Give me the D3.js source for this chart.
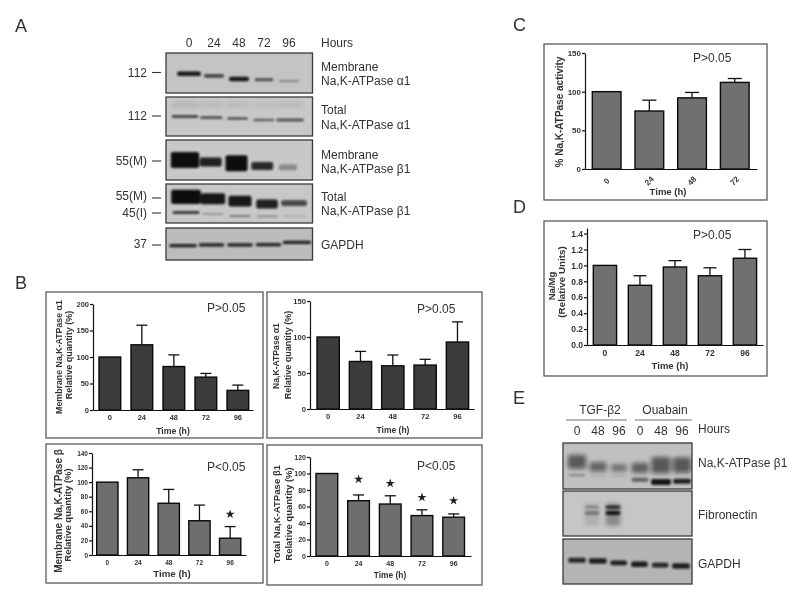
<!DOCTYPE html>
<html><head><meta charset="utf-8">
<script src="https://cdn.jsdelivr.net/npm/d3@7"></script>
<style>
html,body{margin:0;padding:0;background:#fff}
svg{display:block;filter:blur(0.4px)}
text{font-family:"Liberation Sans",Arial,sans-serif;fill:#333}
</style></head><body>
<svg id="fig" width="800" height="600"></svg>
<script>
// ---------- Bar chart data ----------
const hoursFive = ["0","24","48","72","96"];
const hoursFour = ["0","24","48","72"];
const membraneAlphaValues = [100,123,82,62,37];
const membraneAlphaErrTops = [100,160,104,69,47];
const membraneAlphaTicks = [0,50,100,150,200];
const totalAlphaValues = [100,66,60,61,93];
const totalAlphaErrTops = [100,80,75,69,121];
const totalAlphaTicks = [0,50,100,150];
const membraneBetaValues = [100,106,71,47,23];
const membraneBetaErrTops = [100,117,90,68.5,39];
const membraneBetaTicks = [0,20,40,60,80,100,120,140];
const membraneBetaStars = [null,null,null,null,56];
const totalBetaValues = [100,67,63,49,47];
const totalBetaErrTops = [100,74,73,56,51];
const totalBetaTicks = [0,20,40,60,80,100,120];
const totalBetaStars = [null,93,88,71,67];
const activityValues = [100,75,92,112];
const activityErrTops = [100,89,99,117];
const activityTicks = [0,50,100,150];
const naMgValues = [1,0.75,0.98,0.87,1.09];
const naMgErrTops = [1,0.87,1.06,0.97,1.2];
const naMgTicks = [0,0.2,0.4,0.6,0.8,1.0,1.2,1.4];

// ---------- Western blot densitometry
// (position and thickness in % of blot height, width as a share of the lane) ----------
const laneHoursA = ["0","24","48","72","96"];
const laneHoursE = ["T0","T48","T96","O0","O48","O96"];
const a1Pos=[52,57,65,67,70], a1Thick=[11,8,11,6,4], a1Dens=[.95,.8,.95,.75,.45], a1Wid=[.95,.8,.8,.75,.8];
const a2Pos=[50,53,55,59,59], a2Thick=[7,6,5,5,6], a2Dens=[.85,.8,.75,.7,.75], a2Wid=[1,.85,.8,.8,1.05];
const a2SmearPos=[20,20,20,20,20], a2SmearThick=[15,15,15,15,15], a2SmearDens=[.1,.08,.08,.06,.08], a2SmearWid=[1,.9,.9,.9,1];
const a3Pos=[50,55,58,65,68], a3Thick=[40,22,40,20,15], a3Dens=[1,.9,1,.85,.3], a3Wid=[1.1,.85,.85,.85,.7];
const a4Pos=[33,38,44,51,49], a4Thick=[36,28,28,23,15], a4Dens=[1,.95,.95,.9,.7], a4Wid=[1.1,.9,.85,.8,.95];
const a4LowPos=[73,77,82,83,82], a4LowThick=[6,4,5,4,3], a4LowDens=[.9,.35,.4,.35,.25], a4LowWid=[1,.8,.8,.8,.9];
const a5Pos=[55,53,53,52,45], a5Thick=[10,10,10,10,10], a5Dens=[.9,.9,.9,.9,.9], a5Wid=[.98,.9,.9,.9,1];
const e1Pos=[41,52,54,54,48,48], e1Thick=[30,20,17,22,35,33], e1Dens=[.6,.55,.4,.5,.6,.6], e1Wid=[.85,.8,.75,.8,.9,.85];
const e1LowPos=[70,72,72,80,85,83], e1LowThick=[5,4,4,9,13,11], e1LowDens=[.3,.12,.1,.55,.95,.9], e1LowWid=[.8,.7,.7,.8,.95,.85];
const e2Pos=[36,36,36,36,36,36], e2Thick=[6,6,6,6,6,6], e2Dens=[0,.25,.9,0,0,0], e2Wid=[0,.7,.7,0,0,0];
const e2LowPos=[49,49,49,49,49,49], e2LowThick=[9,9,9,9,9,9], e2LowDens=[0,.3,.95,0,0,0], e2LowWid=[0,.7,.7,0,0,0];
const e2SmearPos=[52,52,52,52,52,52], e2SmearThick=[50,50,50,50,50,50], e2SmearDens=[0,.12,.3,0,0,0], e2SmearWid=[0,.7,.7,0,0,0];
const e3Pos=[47,49,53,56,58,60], e3Thick=[11,12,11,12,11,12], e3Dens=[.85,.9,.9,.9,.85,.9], e3Wid=[.85,.85,.8,.8,.8,.85];

const svg = d3.select("#fig");
const defs = svg.append("defs");
defs.append("filter").attr("id","soft").attr("x","-30%").attr("y","-80%").attr("width","160%").attr("height","260%")
  .append("feGaussianBlur").attr("stdDeviation",1.2);
defs.append("filter").attr("id","softer").attr("x","-30%").attr("y","-80%").attr("width","160%").attr("height","260%")
  .append("feGaussianBlur").attr("stdDeviation",2.2);

function label(x,y,str,size,opt={}){
  const t = svg.append("text").attr("x",x).attr("y",y).attr("font-size",size).text(str);
  if(opt.anchor) t.attr("text-anchor",opt.anchor);
  if(opt.bold) t.attr("font-weight","bold");
  return t;
}
function vlabel(x,cy,str,size,bold=true){
  svg.append("text").attr("transform",`translate(${x},${cy}) rotate(-90)`)
    .attr("text-anchor","middle").attr("font-size",size)
    .attr("font-weight",bold?"bold":"normal").text(str);
}
function frame(x0,y0,x1,y1,stroke="#5a5a5a"){
  svg.append("rect").attr("x",x0).attr("y",y0).attr("width",x1-x0).attr("height",y1-y0)
    .attr("fill","none").attr("stroke",stroke).attr("stroke-width",1.3);
}

function blot(box,laneNames,laneRange,rows,bg){
  const [x0,y0,x1,y1]=box;
  svg.append("rect").attr("x",x0).attr("y",y0).attr("width",x1-x0).attr("height",y1-y0).attr("fill",bg);
  const lane=d3.scalePoint().domain(laneNames).range(laneRange);
  const pos=d3.scaleLinear().domain([0,100]).range([y0,y1]);
  const g=svg.append("g");
  const cp="c"+Math.round(x0)+"_"+Math.round(y0);
  defs.append("clipPath").attr("id",cp).append("rect").attr("x",x0).attr("y",y0).attr("width",x1-x0).attr("height",y1-y0);
  g.attr("clip-path",`url(#${cp})`);
  const step=lane.step();
  rows.forEach(r=>{
    g.append("g").attr("filter",`url(#${r.blur||"soft"})`).selectAll("rect")
      .data(laneNames.map((n,i)=>({n,p:r.pos[i],t:r.thick[i],d:r.dens[i],w:r.wid[i]})).filter(d=>d.d>0))
      .join("rect")
      .attr("x",d=>lane(d.n)-d.w*step/2).attr("width",d=>d.w*step)
      .attr("y",d=>pos(d.p-d.t/2)).attr("height",d=>pos(d.t)-pos(0))
      .attr("rx",2).attr("fill","#0c0c0c").attr("opacity",d=>d.d);
  });
  svg.append("rect").attr("x",x0).attr("y",y0).attr("width",x1-x0).attr("height",y1-y0)
    .attr("fill","none").attr("stroke","#3a3a3a").attr("stroke-width",1.3);
}

function barChart(c){
  const n=c.cats.length, pi=1-c.barW/c.step;
  const L=c.first-c.axisX, R=c.end-(c.first+c.step*(n-1)+c.barW);
  const x=d3.scaleBand().domain(c.cats).range([c.axisX,c.end])
    .paddingInner(pi).paddingOuter((L+R)/(2*c.step)).align(L/(L+R));
  const y=d3.scaleLinear().domain([0,c.top]).range([c.y0,c.yTop]);
  const g=svg.append("g");
  g.selectAll("rect.bar").data(c.cats).join("rect").attr("class","bar")
    .attr("x",d=>x(d)).attr("width",x.bandwidth())
    .attr("y",(d,i)=>y(c.values[i])).attr("height",(d,i)=>y(0)-y(c.values[i]))
    .attr("fill",c.fill).attr("stroke","#0a0a0a").attr("stroke-width",1.4);
  const cap=c.cap||5.5;
  c.cats.forEach((d,i)=>{
    if(c.tops[i]<=c.values[i]) return;
    const cx=x(d)+x.bandwidth()/2;
    g.append("line").attr("x1",cx).attr("x2",cx).attr("y1",y(c.values[i])).attr("y2",y(c.tops[i])).attr("stroke","#111").attr("stroke-width",1.3);
    g.append("line").attr("x1",cx-cap).attr("x2",cx+cap).attr("y1",y(c.tops[i])).attr("y2",y(c.tops[i])).attr("stroke","#111").attr("stroke-width",1.3);
  });
  if(c.stars){
    c.cats.forEach((d,i)=>{
      if(c.stars[i]==null) return;
      g.append("path").attr("d",d3.symbol(d3.symbolStar,26)())
        .attr("transform",`translate(${x(d)+x.bandwidth()/2},${y(c.stars[i])})`).attr("fill","#222");
    });
  }
  const ya=d3.axisLeft(y).tickValues(c.ticks).tickSize(3).tickSizeOuter(0).tickPadding(1);
  if(c.fmt) ya.tickFormat(c.fmt);
  const yg=svg.append("g").attr("transform",`translate(${c.axisX},0)`).call(ya);
  const xa=d3.axisBottom(x).tickSize(0).tickSizeOuter(0).tickPadding(c.xPad||5);
  const xg=svg.append("g").attr("transform",`translate(0,${c.y0})`).call(xa);
  [yg,xg].forEach(s=>{
    s.selectAll("path,line").attr("stroke","#111").attr("stroke-width",1.2);
    s.selectAll("text").attr("font-size",c.tickSize).attr("font-weight","bold")
      .style("font-family",'"Liberation Sans",Arial,sans-serif').style("fill","#333");
  });
  if(c.rotate){
    xg.selectAll("text").attr("text-anchor","middle").attr("y",0).attr("dy","0.32em")
      .attr("transform","translate(0,12) rotate(-45)");
  }
}

// ---------- Panel letters ----------
label(15,32,"A",18); label(15,289,"B",18); label(513,31,"C",18); label(513,213,"D",18); label(513,404,"E",18);

// ---------- Panel A ----------
const aBg="#c8c8c8";
blot([166,53,312.5,93],laneHoursA,[189,289],[{pos:a1Pos,thick:a1Thick,dens:a1Dens,wid:a1Wid}],"#c4c4c4");
blot([166,97,312.5,136],laneHoursA,[185,290],[{pos:a2SmearPos,thick:a2SmearThick,dens:a2SmearDens,wid:a2SmearWid,blur:"softer"},{pos:a2Pos,thick:a2Thick,dens:a2Dens,wid:a2Wid}],aBg);
blot([166,140,312.5,180],laneHoursA,[185,288],[{pos:a3Pos,thick:a3Thick,dens:a3Dens,wid:a3Wid}],aBg);
blot([166,184,312.5,223],laneHoursA,[186,294],[{pos:a4Pos,thick:a4Thick,dens:a4Dens,wid:a4Wid},{pos:a4LowPos,thick:a4LowThick,dens:a4LowDens,wid:a4LowWid}],aBg);
blot([166,228,312.5,260],laneHoursA,[183,297],[{pos:a5Pos,thick:a5Thick,dens:a5Dens,wid:a5Wid}],"#bcbcbc");

const headX=d3.scalePoint().domain(laneHoursA).range([189,289]);
laneHoursA.forEach(h=>label(headX(h),47,h,12,{anchor:"middle"}));
label(321,47,"Hours",12);
[[71,"Membrane"],[85,"Na,K-ATPase α1"],[114,"Total"],[129,"Na,K-ATPase α1"],[159,"Membrane"],[173,"Na,K-ATPase β1"],[201,"Total"],[215,"Na,K-ATPase β1"],[249,"GAPDH"]]
 .forEach(([y,t])=>label(321,y,t,12));
[[77,"112",72.5],[120,"112",116],[165,"55(M)",161],[200,"55(M)",198],[217,"45(I)",213],[248,"37",245]].forEach(([y,t,m])=>{
  label(147,y,t,12,{anchor:"end"});
  svg.append("line").attr("x1",152).attr("x2",161).attr("y1",m).attr("y2",m).attr("stroke","#333").attr("stroke-width",1.1);
});

// ---------- Panel B ----------
frame(46,292,263,438);
barChart({cats:hoursFive,values:membraneAlphaValues,tops:membraneAlphaErrTops,ticks:membraneAlphaTicks,top:200,
  axisX:93,end:253,first:99,step:32,barW:21.7,y0:410,yTop:304,fill:"#3c3c3c",tickSize:7.5});
label(173,434,"Time (h)",8.7,{anchor:"middle",bold:true});
vlabel(62,357,"Membrane Na,K-ATPase α1",8.8); vlabel(72,355,"Relative quantity (%)",9);
label(207,312,"P>0.05",12);

frame(267,292,482,438);
barChart({cats:hoursFive,values:totalAlphaValues,tops:totalAlphaErrTops,ticks:totalAlphaTicks,top:150,
  axisX:310,end:474,first:317,step:32.33,barW:22.3,y0:409,yTop:301,fill:"#3c3c3c",tickSize:7.6});
label(393,433,"Time (h)",8.5,{anchor:"middle",bold:true});
vlabel(279,356,"Na,K-ATPase α1",8.6); vlabel(291,355,"Relative quantity (%)",9);
label(417,313,"P>0.05",12);

frame(46,444,263,583);
barChart({cats:hoursFive,values:membraneBetaValues,tops:membraneBetaErrTops,ticks:membraneBetaTicks,top:140,stars:membraneBetaStars,
  axisX:92,end:246,first:96.7,step:30.7,barW:21.3,y0:555,yTop:453,fill:"#6e6e6e",tickSize:6.5});
label(172,577,"Time (h)",9.7,{anchor:"middle",bold:true});
vlabel(62,511,"Membrane Na,K-ATPase β",10); vlabel(71,515,"Relative quantity (%)",9.5);
label(207,470.5,"P<0.05",12);

frame(267,445,482,585);
barChart({cats:hoursFive,values:totalBetaValues,tops:totalBetaErrTops,ticks:totalBetaTicks,top:120,stars:totalBetaStars,
  axisX:310,end:471,first:316,step:31.7,barW:21.7,y0:556,yTop:457,fill:"#6e6e6e",tickSize:7});
label(390,578,"Time (h)",8.4,{anchor:"middle",bold:true});
vlabel(280,514,"Total Na,K-ATPase β1",9.6); vlabel(291.5,514,"Relative quantity (%)",9.5);
label(417,470,"P<0.05",12);

// ---------- Panel C ----------
frame(544,44,767,200);
barChart({cats:hoursFour,values:activityValues,tops:activityErrTops,ticks:activityTicks,top:150,rotate:true,
  axisX:585,end:757,first:592.3,step:42.7,barW:28.7,y0:169,yTop:53,fill:"#707070",tickSize:8,xPad:7,cap:7});
label(668,195,"Time (h)",9.5,{anchor:"middle",bold:true});
vlabel(563,112,"% Na,K-ATPase activity",10);
label(693,62,"P>0.05",12);

// ---------- Panel D ----------
frame(544,221,767,376);
barChart({cats:hoursFive,values:naMgValues,tops:naMgErrTops,ticks:naMgTicks,top:1.47,fmt:d3.format(".1f"),
  axisX:587,end:763,first:593.3,step:35,barW:23.3,y0:345,yTop:228,fill:"#707070",tickSize:8.5,cap:6.5});
label(670,369,"Time (h)",9.5,{anchor:"middle",bold:true});
vlabel(555,286,"Na/Mg",9.5); vlabel(565,282,"(Relative Units)",9.8);
label(693,239,"P>0.05",12);

// ---------- Panel E ----------
blot([563,443,692,489],laneHoursE,[577,682],[{pos:e1Pos,thick:e1Thick,dens:e1Dens,wid:e1Wid,blur:"softer"},{pos:e1LowPos,thick:e1LowThick,dens:e1LowDens,wid:e1LowWid}],"#c0c0c0");
blot([563,491,692,536],laneHoursE,[571,676],[{pos:e2SmearPos,thick:e2SmearThick,dens:e2SmearDens,wid:e2SmearWid,blur:"softer"},{pos:e2Pos,thick:e2Thick,dens:e2Dens,wid:e2Wid},{pos:e2LowPos,thick:e2LowThick,dens:e2LowDens,wid:e2LowWid}],"#c6c6c6");
blot([563,539,692,584],laneHoursE,[577,681],[{pos:e3Pos,thick:e3Thick,dens:e3Dens,wid:e3Wid}],"#b4b4b4");
label(600,414,"TGF-β2",12,{anchor:"middle"});
label(665,414,"Ouabain",12,{anchor:"middle"});
[[566,627],[635,692]].forEach(([a,b])=>svg.append("line").attr("x1",a).attr("x2",b).attr("y1",420).attr("y2",420).attr("stroke","#777").attr("stroke-width",1.2));
const eHead=d3.scalePoint().domain(laneHoursE).range([577,682]);
["0","48","96","0","48","96"].forEach((t,i)=>label(eHead(laneHoursE[i]),435,t,12,{anchor:"middle"}));
label(698,433,"Hours",12);
label(698,467,"Na,K-ATPase β1",12);
label(698,519,"Fibronectin",12);
label(698,568,"GAPDH",12);
</script>
</body></html>
